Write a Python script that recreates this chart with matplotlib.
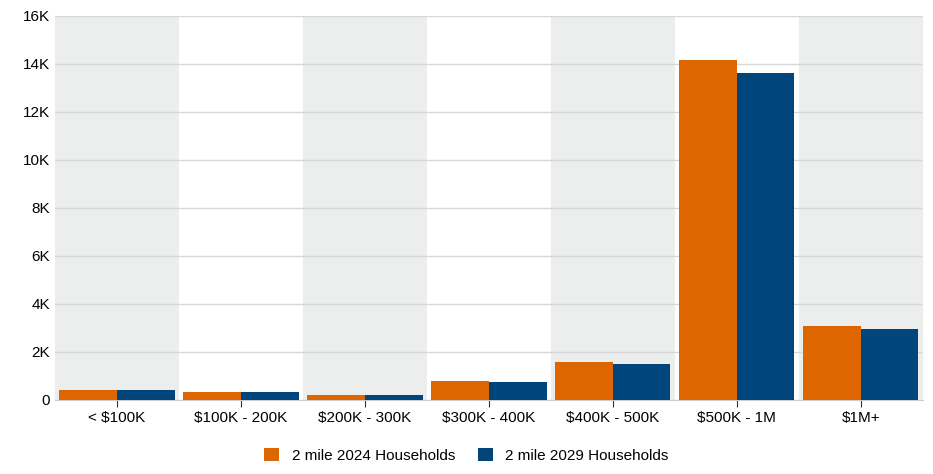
import matplotlib
matplotlib.use("Agg")
import matplotlib.pyplot as plt
import numpy as np
from matplotlib.ticker import FuncFormatter

plt.rcParams['font.family'] = ['Liberation Sans', 'DejaVu Sans']

categories = ["< $100K", "$100K - 200K", "$200K - 300K", "$300K - 400K", "$400K - 500K", "$500K - 1M", "$1M+"]
hh2024 = [420, 320, 195, 760, 1555, 14170, 3080]
hh2029 = [410, 315, 185, 730, 1500, 13620, 2960]

fig = plt.figure(figsize=(9.33, 4.74), dpi=100)
ax = fig.add_axes([0.059, 0.157, 0.93, 0.81])
x = np.arange(len(categories))
for i in x:
    if i % 2 == 0:
        ax.axvspan(i - 0.5, i + 0.5, color="#eceded", zorder=0, lw=0)
w = 0.465
ax.bar(x - w/2, hh2024, w, color="#dd6600", label="2 mile 2024 Households", zorder=3)
ax.bar(x + w/2, hh2029, w, color="#00457c", label="2 mile 2029 Households", zorder=3)
ax.set_xlim(-0.5, len(categories) - 0.5)
ax.set_ylim(0, 16000)
ax.set_yticks(np.arange(0, 16001, 2000))
ax.yaxis.set_major_formatter(FuncFormatter(lambda v, p: "0" if v == 0 else f"{int(v/1000)}K"))
ax.grid(axis="y", color="#d8d8d8", lw=1, zorder=1)
ax.set_xticks(x)
ax.set_xticklabels(categories, fontsize=11)
ax.tick_params(axis="y", length=0, labelsize=11)
ax.tick_params(axis="x", length=5, color="#333333")
for s in ["top", "right", "left"]:
    ax.spines[s].set_visible(False)
ax.spines["bottom"].set_color("#cccccc")
fig.legend(loc="lower center", ncol=2, frameon=False, fontsize=11, bbox_to_anchor=(0.5, -0.005),
           handlelength=1.0, handleheight=1.0, columnspacing=1.5)
fig.savefig("out.png", dpi=100)
